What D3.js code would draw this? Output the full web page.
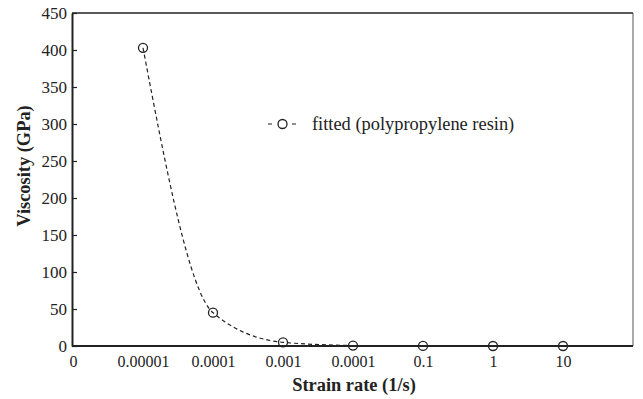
<!DOCTYPE html>
<html>
<head>
<meta charset="utf-8">
<script src="https://cdn.jsdelivr.net/npm/d3@7"></script>
<style>
  body { margin: 0; background: #fff; }
</style>
</head>
<body>
<div id="chart"></div>
<script>
// x categories (evenly spaced, as printed on the original)
const tickLabels = ["0", "0.00001", "0.0001", "0.001", "0.0001", "0.1", "1", "10"];
const pointIndex = [1, 2, 3, 4, 5, 6, 7];
const viscosity = [403, 45, 5, 0.55, 0.06, 0.01, 0.001];
const yTicks = [0, 50, 100, 150, 200, 250, 300, 350, 400, 450];

const width = 643;
const height = 399;
const margin = {top: 13, right: 10, bottom: 53, left: 72};
const serif = "'Liberation Serif', 'Times New Roman', Times, 'DejaVu Serif', serif";

const data = pointIndex.map((d, i) => ({x: d, y: viscosity[i]}));

const svg = d3.select("#chart")
    .append("svg")
    .attr("width", width)
    .attr("height", height)
    .attr("font-family", serif);

const xScale = d3.scaleLinear()
    .domain([0, 8])
    .range([margin.left + 1, width - margin.right]);

const yScale = d3.scaleLinear()
    .domain([0, 450])
    .range([height - margin.bottom, margin.top]);

// frame: top and right
svg.append("line")
    .attr("x1", margin.left).attr("x2", width - margin.right)
    .attr("y1", margin.top).attr("y2", margin.top)
    .attr("stroke", "#222").attr("stroke-width", 1.5);
svg.append("line")
    .attr("x1", width - margin.right).attr("x2", width - margin.right)
    .attr("y1", margin.top).attr("y2", height - margin.bottom)
    .attr("stroke", "#555").attr("stroke-width", 1);

// dashed fitted curve
const line = d3.line()
    .x(d => xScale(d.x))
    .y(d => yScale(d.y))
    .curve(d3.curveMonotoneX);

svg.append("path")
    .datum(data.slice(0, 4))
    .attr("fill", "none")
    .attr("stroke", "#222")
    .attr("stroke-width", 1.2)
    .attr("stroke-dasharray", "4,3")
    .attr("d", line);

// y axis
const yAxis = d3.axisLeft(yScale)
    .tickValues(yTicks)
    .tickSizeInner(-5)
    .tickSizeOuter(0)
    .tickPadding(5);

const gy = svg.append("g")
    .attr("transform", `translate(${margin.left},0)`)
    .call(yAxis)
    .attr("font-family", serif)
    .attr("font-size", 17);
gy.select(".domain").attr("stroke", "#222").attr("stroke-width", 2);
gy.selectAll(".tick line").attr("stroke", "#222").attr("stroke-width", 1.2);
gy.selectAll(".tick text").attr("fill", "#222");

// x axis
const xAxis = d3.axisBottom(xScale)
    .tickValues(d3.range(tickLabels.length))
    .tickFormat((d, i) => tickLabels[i])
    .tickSize(0)
    .tickPadding(10);

const gx = svg.append("g")
    .attr("transform", `translate(0,${height - margin.bottom})`)
    .call(xAxis)
    .attr("font-family", serif)
    .attr("font-size", 16);
gx.select(".domain").attr("stroke", "#222").attr("stroke-width", 2)
    .attr("d", `M${margin.left},0H${width - margin.right}`);
gx.selectAll(".tick text").attr("fill", "#222");

// points
svg.selectAll("circle.pt")
    .data(data)
    .enter()
    .append("circle")
    .attr("class", "pt")
    .attr("cx", d => xScale(d.x))
    .attr("cy", d => yScale(d.y))
    .attr("r", 4.5)
    .attr("fill", "none")
    .attr("stroke", "#222")
    .attr("stroke-width", 1.3);

// legend
const lg = svg.append("g").attr("transform", "translate(268,124)");
lg.append("line")
    .attr("x1", 0).attr("x2", 29).attr("y1", 0).attr("y2", 0)
    .attr("stroke", "#222").attr("stroke-width", 1.2)
    .attr("stroke-dasharray", "4,20");
lg.append("circle")
    .attr("cx", 14.5).attr("cy", 0).attr("r", 4.5)
    .attr("fill", "#fff").attr("stroke", "#222").attr("stroke-width", 1.3);
lg.append("text")
    .attr("x", 44).attr("y", 6)
    .attr("font-size", 18.4)
    .attr("fill", "#222")
    .text("fitted (polypropylene resin)");

// axis labels
svg.append("text")
    .attr("text-anchor", "middle")
    .attr("x", 354)
    .attr("y", 391)
    .attr("font-size", 18.4)
    .attr("font-weight", "bold")
    .attr("fill", "#222")
    .text("Strain rate (1/s)");

svg.append("text")
    .attr("text-anchor", "middle")
    .attr("transform", "translate(30,166) rotate(-90)")
    .attr("font-size", 18.4)
    .attr("font-weight", "bold")
    .attr("fill", "#222")
    .text("Viscosity (GPa)");
</script>
</body>
</html>
